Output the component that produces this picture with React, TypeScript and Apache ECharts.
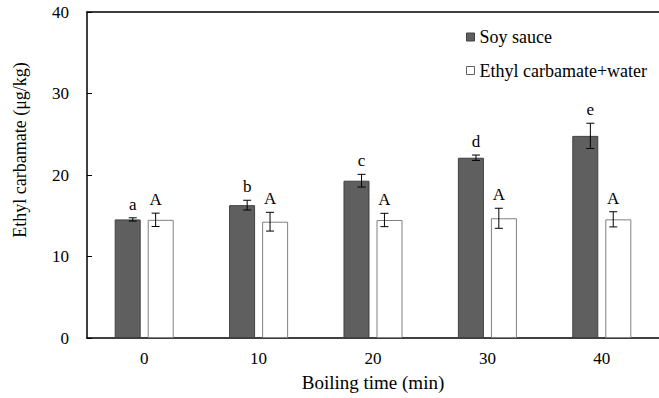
import React, { useEffect, useRef } from "react";
import * as echarts from "echarts";

const categories = ["0", "10", "20", "30", "40"];
const soyValues = [14.55, 16.3, 19.3, 22.12, 24.8];
const soyErrors = [0.2, 0.6, 0.78, 0.33, 1.55];
const soyLetters = ["a", "b", "c", "d", "e"];
const waterValues = [14.5, 14.27, 14.48, 14.69, 14.56];
const waterErrors = [0.82, 1.15, 0.82, 1.23, 0.93];
const waterLetters = ["A", "A", "A", "A", "A"];
const yTicks = [0, 10, 20, 30, 40];

const FONT = "Liberation Serif";

export default function App() {
  const ref = useRef<HTMLDivElement>(null);
  useEffect(() => {
    if (!ref.current) return;
    const chart = echarts.init(ref.current, null, { renderer: "svg" });

    const makeErr = (values: number[], errors: number[], letters: string[], offsetSign: number) => ({
      type: "custom",
      z: 10,
      data: values.map((v, i) => [i, v, errors[i]]),
      renderItem: (params: any, api: any) => {
        const idx = api.value(0);
        const v = api.value(1);
        const e = api.value(2);
        const letter = letters[params.dataIndex];
        const center = api.coord([idx, v]);
        const band = api.size([1, 0])[0];
        const x = center[0] + offsetSign * band * 0.1;
        const top = api.coord([idx, v + e])[1];
        const bot = api.coord([idx, v - e])[1];
        const cap = 4;
        const style = { stroke: "#000", lineWidth: 1, fill: null };
        return {
          type: "group",
          children: [
            { type: "line", shape: { x1: x, y1: top, x2: x, y2: bot }, style },
            { type: "line", shape: { x1: x - cap, y1: top, x2: x + cap, y2: top }, style },
            { type: "line", shape: { x1: x - cap, y1: bot, x2: x + cap, y2: bot }, style },
            {
              type: "text",
              x: x,
              y: top - 5,
              style: {
                text: letter,
                fill: "#000",
                fontFamily: FONT,
                fontSize: 17,
                align: "center",
                verticalAlign: "bottom",
              },
            },
          ],
        };
      },
    });

    chart.setOption({
      animation: false,
      textStyle: { fontFamily: FONT },
      grid: { left: 87, right: -3, top: 12, bottom: 60, containLabel: false },
      legend: {
        orient: "vertical",
        left: 466,
        top: 28,
        padding: 0,
        itemWidth: 8,
        itemHeight: 8,
        itemGap: 15.5,
        icon: "rect",
        textStyle: { fontFamily: FONT, fontSize: 18, lineHeight: 18, color: "#000" },
        data: [
          { name: "Soy sauce", itemStyle: { color: "#5f5f5f", borderColor: "#404040", borderWidth: 1 } },
          { name: "Ethyl carbamate+water", itemStyle: { color: "#fff", borderColor: "#606060", borderWidth: 1 } },
        ],
      },
      xAxis: [
        {
          type: "category",
          data: categories,
          axisLine: { lineStyle: { color: "#000", width: 1.5 } },
          axisTick: { show: false },
          axisLabel: { fontFamily: FONT, fontSize: 17, color: "#000", margin: 12 },
          name: "Boiling time (min)",
          nameLocation: "middle",
          nameGap: 35,
          nameTextStyle: { fontFamily: FONT, fontSize: 19, color: "#000" },
        },
        {
          type: "category",
          position: "top",
          data: categories,
          axisLine: { lineStyle: { color: "#000", width: 1.5 } },
          axisTick: { show: false },
          axisLabel: { show: false },
        },
      ],
      yAxis: {
        type: "value",
        min: 0,
        max: 40,
        interval: 10,
        axisLine: { show: true, lineStyle: { color: "#000", width: 1.5 } },
        axisTick: { show: true, inside: true, length: 5, lineStyle: { color: "#000" } },
        splitLine: { show: false },
        axisLabel: {
          fontFamily: FONT,
          fontSize: 17,
          color: "#000",
          margin: 18,
          formatter: (v: number) => (yTicks.includes(v) ? String(v) : ""),
        },
      },
      graphic: [
        {
          type: "text",
          x: 20,
          y: 150,
          rotation: Math.PI / 2,
          style: {
            text: "Ethyl carbamate (μg/kg)",
            fontFamily: FONT,
            fontSize: 18,
            fill: "#000",
            align: "center",
            verticalAlign: "middle",
          },
        },
      ],
      series: [
        {
          name: "Soy sauce",
          type: "bar",
          data: soyValues,
          barWidth: 26,
          barGap: "27%",
          itemStyle: { color: "#5f5f5f", borderColor: "#404040", borderWidth: 1 },
        },
        {
          name: "Ethyl carbamate+water",
          type: "bar",
          data: waterValues,
          barWidth: 26,
          barGap: "27%",
          itemStyle: { color: "#fff", borderColor: "#808080", borderWidth: 1 },
        },
        makeErr(soyValues, soyErrors, soyLetters, -1),
        makeErr(waterValues, waterErrors, waterLetters, 1),
      ],
    });
    return () => chart.dispose();
  }, []);
  return <div ref={ref} style={{ width: 659, height: 398, position: "absolute", left: 0, top: 0 }} />;
}
